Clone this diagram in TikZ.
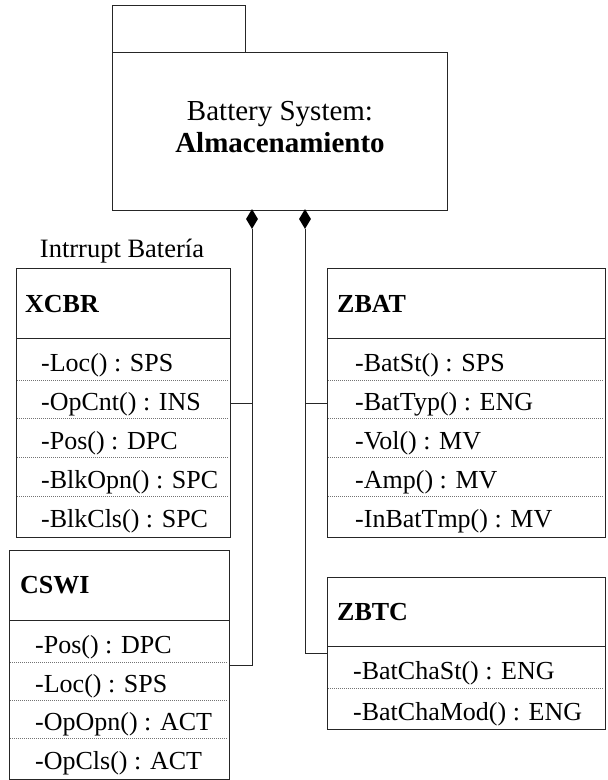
\documentclass[tikz,border=0pt]{standalone}
\usepackage{fontspec}
\setmainfont{Liberation Serif}
\usetikzlibrary{shapes.geometric}
\begin{document}
\begin{tikzpicture}[x=1pt,y=-1pt,
  frame/.style={draw=black!85, line width=1pt, inner sep=0pt, anchor=north west},
  sep/.style={draw=black!85, line width=1pt},
  rowsep/.style={draw=black!55, line width=0.6pt, dash pattern=on 1pt off 1pt},
  txt/.style={inner sep=0pt, font=\fontsize{26}{30}\selectfont},
  big/.style={inner sep=0pt, anchor=base, font=\fontsize{29}{34}\selectfont},
  title/.style={txt, anchor=base west, font=\fontsize{26}{30}\selectfont\bfseries},
  member/.style={txt, anchor=base west},
  link/.style={draw=black!85, line width=1pt},
  compo/.style={diamond, fill=black, draw=none, inner sep=0pt, minimum width=12pt, minimum height=20pt}]
\useasboundingbox (0,0) rectangle (608,780);

% package
\node[frame, minimum width=133pt, minimum height=47pt] (tab) at (112,5) {};
\node[frame, minimum width=335pt, minimum height=158pt] (pkg) at (112,52) {};
\node[big] (pkgl1) at (280,120) {Battery System:};
\node[big, font=\fontsize{29}{34}\selectfont\bfseries] (pkgl2) at (280,152) {Almacenamiento};

% composition diamonds
\node[compo] (dL) at (252,219) {};
\node[compo] (dR) at (305,219) {};

% XCBR
\node[txt, anchor=base, font=\fontsize{26.5}{30}\selectfont] (xlabel) at (122,257) {Intrrupt Batería};
\node[frame, minimum width=214pt, minimum height=269pt] (xcbr) at (16,268) {};
\draw[sep] (16,338) -- (230,338);
\foreach \y in {380,418,457,496} \draw[rowsep] (17,\y) -- (229,\y);
\node[title] (xcbrT) at (25,312) {XCBR};
\node[member] (x1) at (41,371) {-Loc() : SPS};
\node[member] (x2) at (41,410) {-OpCnt() : INS};
\node[member] (x3) at (41,449) {-Pos() : DPC};
\node[member] (x4) at (41,488) {-BlkOpn() : SPC};
\node[member] (x5) at (41,527) {-BlkCls() : SPC};

% CSWI
\node[frame, minimum width=220pt, minimum height=229pt] (cswi) at (9,550) {};
\draw[sep] (9,620) -- (229,620);
\foreach \y in {662,700,738} \draw[rowsep] (10,\y) -- (228,\y);
\node[title] (cswiT) at (20,593) {CSWI};
\node[member] (c1) at (35,653) {-Pos() : DPC};
\node[member] (c2) at (35,692) {-Loc() : SPS};
\node[member] (c3) at (35,730) {-OpOpn() : ACT};
\node[member] (c4) at (35,769) {-OpCls() : ACT};

% ZBAT
\node[frame, minimum width=278pt, minimum height=269pt] (zbat) at (327,268) {};
\draw[sep] (327,338) -- (605,338);
\foreach \y in {380,418,457,496} \draw[rowsep] (328,\y) -- (604,\y);
\node[title] (zbatT) at (337,312) {ZBAT};
\node[member] (b1) at (355,371) {-BatSt() : SPS};
\node[member] (b2) at (355,410) {-BatTyp() : ENG};
\node[member] (b3) at (355,449) {-Vol() : MV};
\node[member] (b4) at (355,488) {-Amp() : MV};
\node[member] (b5) at (355,527) {-InBatTmp() : MV};

% ZBTC
\node[frame, minimum width=278pt, minimum height=152pt] (zbtc) at (327,577) {};
\draw[sep] (327,646) -- (605,646);
\draw[rowsep] (328,688) -- (604,688);
\node[title] (zbtcT) at (337,620) {ZBTC};
\node[member] (t1) at (353,679) {-BatChaSt() : ENG};
\node[member] (t2) at (353,720) {-BatChaMod() : ENG};

% composition links
\draw[link] (xcbr.east) -| (dL.south);
\draw[link] (cswi.east) -| (dL.south);
\draw[link] (zbat.west) -| (dR.south);
\draw[link] (zbtc.west) -| (dR.south);
\end{tikzpicture}
\end{document}
